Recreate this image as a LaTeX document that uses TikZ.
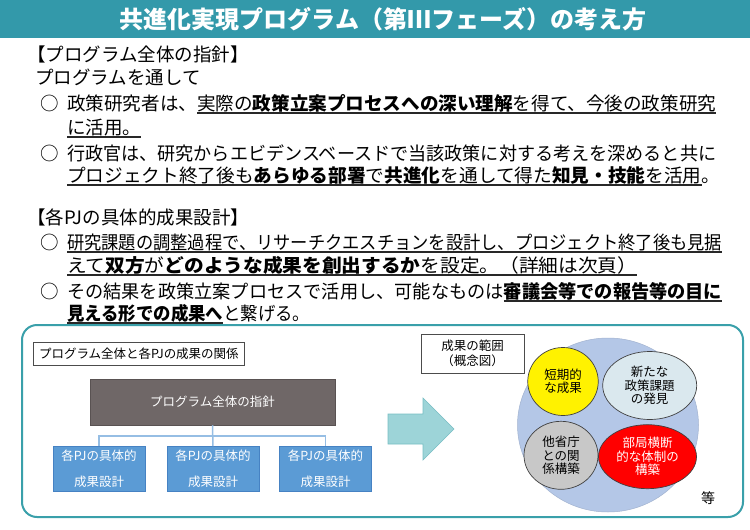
\documentclass[tikz,border=0pt]{standalone}
\usepackage{fontspec}
\usepackage{graphicx}
\setmainfont{Noto Sans CJK JP}
\usetikzlibrary{shapes.geometric}
\definecolor{teal1}{RGB}{51,153,170}
\definecolor{panelc}{RGB}{58,160,170}
\definecolor{darkbox}{RGB}{111,103,103}
\definecolor{bluebox}{RGB}{91,155,213}
\definecolor{blueedge}{RGB}{70,130,195}
\definecolor{connc}{RGB}{150,190,228}
\definecolor{arrowc}{RGB}{157,212,216}
\definecolor{arrowe}{RGB}{120,190,196}
\definecolor{bigc}{RGB}{180,199,231}
\definecolor{lightc}{RGB}{218,232,238}
\definecolor{grayc}{RGB}{200,200,200}
\definecolor{ulc}{RGB}{40,40,40}
\newcommand\ulx[1]{\setbox0\hbox{#1}\rlap{\color{ulc}\rule[-3.6pt]{\wd0}{1.3pt}}\box0}
\newcommand\fitw[2]{\resizebox{#1}{\height}{#2}}
\tikzset{
  txt/.style={anchor=base west, inner sep=0pt, font=\fontsize{18.5}{22}\selectfont},
  lblbox/.style={draw=black!70, line width=0.8pt, fill=white, inner sep=0pt, font=\fontsize{12.5}{15}\selectfont},
  pjbox/.style={draw=blueedge, line width=0.8pt, fill=bluebox, text=white, minimum width=92pt, minimum height=45pt, inner sep=0pt, align=center, font=\fontsize{12.5}{26}\selectfont},
  conn/.style={draw=connc, line width=1.5pt},
  bubble/.style={ellipse, draw=black!75, line width=0.7pt, inner sep=0pt, align=center, font=\fontsize{12.5}{13.5}\selectfont},
}
\begin{document}
\begin{tikzpicture}[x=1pt,y=-1pt]
\useasboundingbox (0,0) rectangle (750,530);
\fill[white] (0,0) rectangle (750,530);
% title bar
\fill[teal1] (0,0) rectangle (750,38);
\node[inner sep=0pt, text=white, font=\fontsize{24}{26}\selectfont\bfseries] (title) at (383,19) {共進化実現プログラム（第Ⅲフェーズ）の考え方};
% text block
\node[txt] (h1) at (27,61) {【プログラム全体の指針】};
\node[txt] (t0) at (35,84) {プログラムを通して};
\node[txt] (o1) at (40,110) {○};
\node[txt] (l1) at (67,110) {\fitw{649pt}{政策研究者は、\ulx{実際の\textbf{政策立案プロセスへの深い理解}を得て、今後の政策研究}}};
\node[txt] (l2) at (67,134) {\ulx{に活用。}};
\node[txt] (o2) at (40,160) {○};
\node[txt] (l3) at (67,160) {\fitw{649pt}{行政官は、研究からエビデンスベースドで当該政策に対する考えを深めると共に}};
\node[txt] (l4) at (67,182) {\fitw{653pt}{\ulx{プロジェクト終了後も\textbf{あらゆる部署}で\textbf{共進化}を通して得た\textbf{知見・技能}を活用}。}};
\node[txt] (h2) at (27,224) {【各PJの具体的成果設計】};
\node[txt] (o3) at (40,249) {○};
\node[txt] (l5) at (67,249) {\fitw{655pt}{\ulx{研究課題の調整過程で、リサーチクエスチョンを設計し、プロジェクト終了後も見据}}};
\node[txt] (l6) at (67,272) {\fitw{570pt}{\ulx{えて\textbf{双方}が\textbf{どのような成果を創出するか}を設定。（詳細は次頁）}}};
\node[txt] (o4) at (40,298) {○};
\node[txt] (l7) at (67,298) {\fitw{655pt}{その結果を政策立案プロセスで活用し、可能なものは\ulx{\textbf{審議会等での報告等の目に}}}};
\node[txt] (l8) at (67,320) {\fitw{243pt}{\ulx{\textbf{見える形での成果へ}}と繋げる。}};
% panel
\draw[panelc, line width=2pt, rounded corners=15pt, fill=white] (22,325) rectangle (743,517);
% left part
\node[lblbox, minimum width=211pt, minimum height=23pt, anchor=north west] (rel) at (33,342) {プログラム全体と各PJの成果の関係};
\node[fill=darkbox, draw=darkbox!80!black, line width=0.5pt, minimum width=245pt, minimum height=46pt, inner sep=0pt, text=white, font=\fontsize{12.5}{15}\selectfont] (top) at (212.5,402) {プログラム全体の指針};
\node[pjbox] (b1) at (99,469) {各PJの具体的\\成果設計};
\node[pjbox] (b2) at (213,469) {各PJの具体的\\成果設計};
\node[pjbox] (b3) at (325.5,469) {各PJの具体的\\成果設計};
\coordinate (mid) at (213,436);
\draw[conn] (top.south) -- (b2.north);
\draw[conn] (b1.north) |- (mid) -| (b3.north);
% arrow
\draw[fill=arrowc, draw=arrowe, line width=0.6pt] (388,414) -- (423,414) -- (423,398) -- (454,429) -- (423,460) -- (423,444) -- (388,444) -- cycle;
% right part
\node[lblbox, minimum width=103pt, minimum height=39pt, align=center, font=\fontsize{12.5}{14.5}\selectfont] (scope) at (472.5,353.5) {成果の範囲\\（概念図）};
\node[ellipse, fill=bigc, draw=bigc!90!black, line width=0.5pt, minimum width=181pt, minimum height=174pt, inner sep=0pt] (big) at (608,425) {};
\node[bubble, fill=yellow, minimum width=70.5pt, minimum height=68pt] (c1) at (563,381.5) {短期的\\な成果};
\node[bubble, fill=lightc, minimum width=94pt, minimum height=68pt] (c2) at (649.7,385.5) {新たな\\政策課題\\の発見};
\node[bubble, fill=grayc, minimum width=74pt, minimum height=68pt] (c3) at (561,455.3) {他省庁\\との関\\係構築};
\node[bubble, fill=red, text=white, minimum width=98pt, minimum height=64pt] (c4) at (647.5,456.7) {部局横断\\的な体制の\\構築};
\node[inner sep=0pt, font=\fontsize{14}{16}\selectfont] (etc) at (708,498) {等};
\end{tikzpicture}
\end{document}
